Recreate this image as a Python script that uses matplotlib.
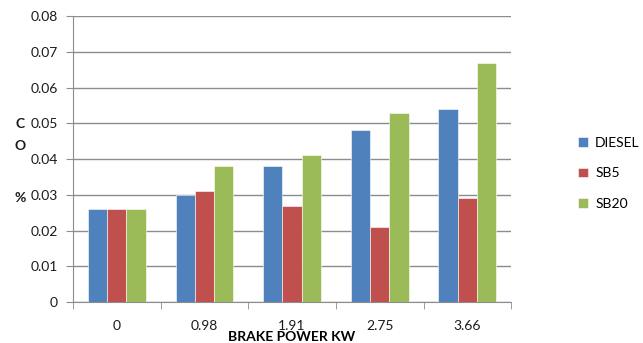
import numpy as np
import matplotlib
matplotlib.use('Agg')
import matplotlib.pyplot as plt

power = ['0', '0.98', '1.91', '2.75', '3.66']
diesel = [0.026, 0.030, 0.038, 0.048, 0.054]
sb5 = [0.026, 0.031, 0.027, 0.021, 0.029]
sb20 = [0.026, 0.038, 0.041, 0.053, 0.067]

series = [('DIESEL', diesel, '#4F81BD'),
          ('SB5', sb5, '#C0504D'),
          ('SB20', sb20, '#9BBB59')]

plt.rcParams['font.family'] = ['Lato', 'DejaVu Sans']

fig = plt.figure(figsize=(6.43, 3.43), dpi=100)
ax = fig.add_axes([0.1135, 0.1195, 0.6815, 0.8335])

x = np.arange(len(power))
w = 0.22
for i, (name, vals, col) in enumerate(series):
    ax.bar(x + (i - 1) * w, vals, w, color=col, label=name,
           edgecolor='white', linewidth=0.4, zorder=3)

ax.set_xlim(-0.5, len(power) - 0.5)
ax.set_ylim(0, 0.08)
ax.set_yticks(np.arange(0, 0.081, 0.01))
ax.set_yticklabels(['0'] + ['%.2f' % v for v in np.arange(0.01, 0.081, 0.01)])
ax.yaxis.grid(True, color='#8c8c8c', linewidth=1.0, zorder=0)

# category labels at centres, tick marks at the group boundaries
ax.set_xticks(x)
ax.set_xticklabels(power)
ax.set_xticks(np.arange(-0.5, len(power)), minor=True)
ax.tick_params(axis='x', which='major', length=0, pad=13)
ax.tick_params(axis='x', which='minor', length=5, color='#8c8c8c', direction='out')
ax.tick_params(axis='y', length=5, color='#8c8c8c', direction='out', pad=6)
ax.tick_params(labelsize=10, labelcolor='#1a1a1a')

for s in ['top', 'right']:
    ax.spines[s].set_visible(False)
for s in ['left', 'bottom']:
    ax.spines[s].set_color('#8c8c8c')

ax.set_xlabel('BRAKE POWER KW', fontsize=10, fontweight='bold', va='center')
ax.xaxis.set_label_coords(0.5, -0.122)

for txt, y in [('C', 124), ('O', 146), ('%', 198)]:
    fig.text(20 / 643, 1 - y / 343, txt, fontsize=10, fontweight='bold',
             ha='center', va='center', color='#1a1a1a')

ax.legend(loc='center left', bbox_to_anchor=(1.125, 0.45), frameon=False,
          fontsize=10, handlelength=0.7, handleheight=0.7,
          labelspacing=1.35, handletextpad=0.5)

fig.savefig('out.png', dpi=100)
